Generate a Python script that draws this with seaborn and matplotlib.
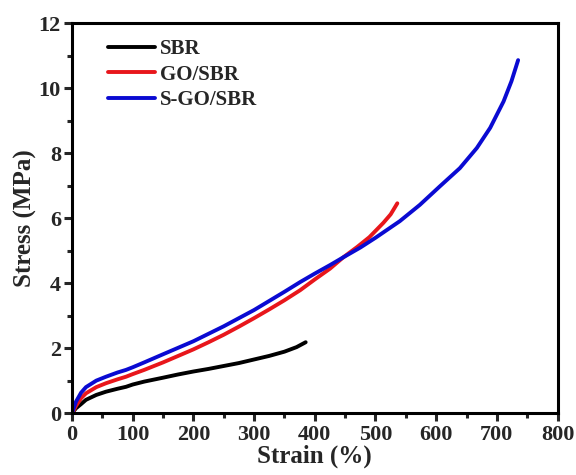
import numpy as np
import pandas as pd
import matplotlib
matplotlib.use("Agg")
import matplotlib.pyplot as plt
import seaborn as sns
from matplotlib.ticker import MultipleLocator

# Data
sbr_strain = [0, 3, 6.5, 15, 23, 40, 56, 75, 89, 100, 119, 150, 175, 200, 225, 250,
              275, 300, 325, 350, 370, 385]
sbr_stress = [0, 0.08, 0.16, 0.29, 0.42, 0.57, 0.67, 0.76, 0.82, 0.89, 0.98, 1.10, 1.20,
              1.29, 1.37, 1.46, 1.55, 1.66, 1.77, 1.90, 2.04, 2.19]

go_strain = [0, 3, 6.5, 15, 23, 40, 56, 75, 89, 100, 119, 150, 175, 200, 225, 250, 275,
             300, 325, 350, 376, 400, 425, 447, 470, 490, 513, 525, 536]
go_stress = [0, 0.10, 0.23, 0.47, 0.62, 0.81, 0.93, 1.05, 1.13, 1.21, 1.34, 1.57, 1.77,
             1.97, 2.19, 2.42, 2.67, 2.93, 3.20, 3.48, 3.79, 4.12, 4.45, 4.80, 5.12, 5.42,
             5.86, 6.12, 6.46]

sgo_strain = [0, 3, 6.5, 15, 23, 40, 56, 75, 89, 100, 119, 150, 175, 200, 225, 250, 275,
              300, 325, 350, 376, 400, 425, 447, 475, 500, 540, 573, 606, 639, 667, 689,
              711, 724, 735]
sgo_stress = [0, 0.17, 0.36, 0.64, 0.81, 1.01, 1.13, 1.26, 1.34, 1.42, 1.57, 1.82, 2.02,
              2.22, 2.45, 2.68, 2.93, 3.18, 3.46, 3.74, 4.04, 4.30, 4.56, 4.80, 5.10, 5.40,
              5.91, 6.41, 6.98, 7.54, 8.16, 8.78, 9.59, 10.21, 10.86]

labels = ["SBR", "GO/SBR", "S-GO/SBR"]
colors = ["#000000", "#e8161b", "#0a0ad2"]

x_ticks = [0, 100, 200, 300, 400, 500, 600, 700, 800]
y_ticks = [0, 2, 4, 6, 8, 10, 12]

frames = []
for lab, xs, ys in zip(labels, [sbr_strain, go_strain, sgo_strain],
                       [sbr_stress, go_stress, sgo_stress]):
    frames.append(pd.DataFrame({"Strain": xs, "Stress": ys, "Sample": lab}))
df = pd.concat(frames, ignore_index=True)

sns.set_theme(style="ticks")
plt.rcParams["font.family"] = ["Liberation Serif", "DejaVu Serif"]
plt.rcParams["font.weight"] = "bold"
plt.rcParams["axes.labelweight"] = "bold"

fig = plt.figure(figsize=(5.76, 4.75), dpi=100)
ax = fig.add_axes([0.125, 0.1295, 0.843, 0.822])

sns.lineplot(data=df, x="Strain", y="Stress", hue="Sample", hue_order=labels,
             palette=colors, sort=False, estimator=None, linewidth=2.8, ax=ax,
             solid_capstyle="round", solid_joinstyle="round")

ax.set_xlim(0, 800)
ax.set_ylim(0, 12)
ax.set_xticks(x_ticks)
ax.set_yticks(y_ticks)
ax.xaxis.set_minor_locator(MultipleLocator(50))
ax.yaxis.set_minor_locator(MultipleLocator(1))
ax.tick_params(which="major", direction="out", length=6, width=2.2, labelsize=16, pad=2)
ax.tick_params(which="minor", direction="out", length=3.5, width=2.2)
for lab in ax.get_xticklabels() + ax.get_yticklabels():
    lab.set_fontweight("bold")
for sp in ax.spines.values():
    sp.set_visible(True)
    sp.set_linewidth(2.2)
    sp.set_color("black")

ax.set_xlabel("Strain (%)", fontsize=18, fontweight="bold", labelpad=0)
ax.set_ylabel("Stress (MPa)", fontsize=18, fontweight="bold", labelpad=1)

leg = ax.legend(loc="upper left", bbox_to_anchor=(0.074, 0.958), frameon=False,
                prop={"size": 15, "weight": "bold"}, handlelength=2.25,
                handletextpad=0.25, labelspacing=0.25, borderaxespad=0, borderpad=0)
for line in leg.get_lines():
    line.set_linewidth(2.8)

fig.savefig("out.png", dpi=100)
